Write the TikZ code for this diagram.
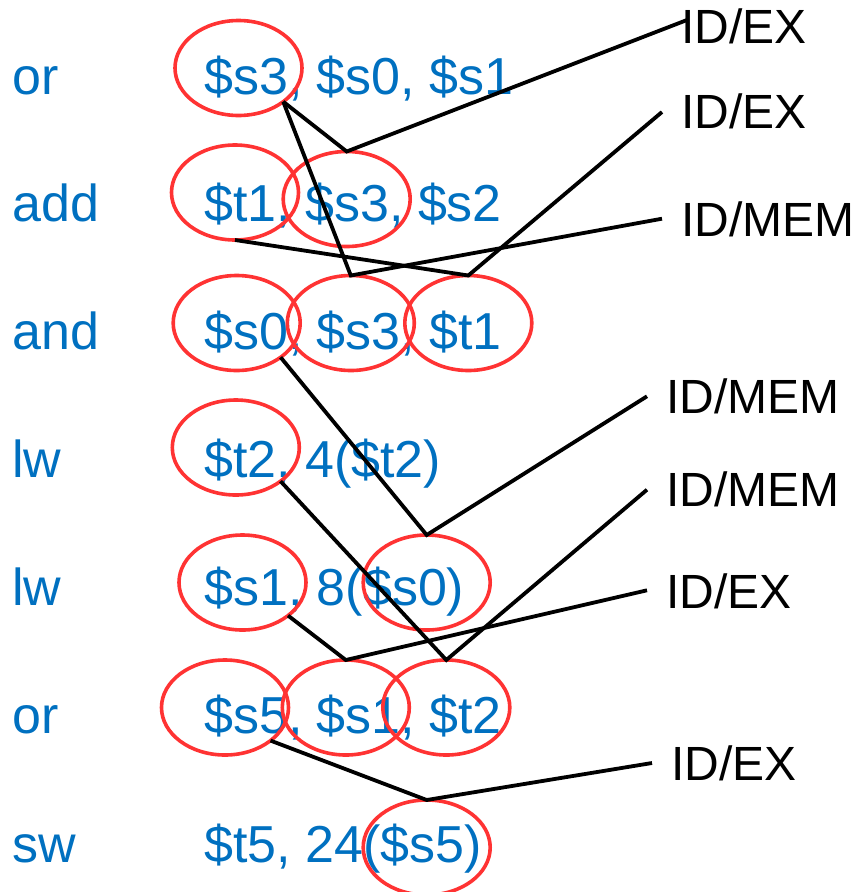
\documentclass[tikz,border=0pt]{standalone}
\usepackage{fontspec}
\setmainfont{Liberation Sans}
\usetikzlibrary{shapes.geometric}
\definecolor{opblue}{HTML}{0070C0}
\definecolor{ringred}{HTML}{FF3333}
\begin{document}
\begin{tikzpicture}[x=1pt,y=-1pt,
  instr/.style={anchor=base west, inner sep=0, text=opblue, font=\fontsize{52}{60}\selectfont},
  stage/.style={anchor=base west, inner sep=0, font=\fontsize{48}{56}\selectfont},
  ring/.style={draw=ringred, line width=3.6pt, ellipse, inner sep=0, outer sep=0,
               minimum width=127pt, minimum height=95pt},
  dep/.style={draw=black, line width=3.8pt, line join=miter, miter limit=3}]
\useasboundingbox (0,0) rectangle (857,892);

% mnemonics
\node[instr] (m1) at (12,94)  {or};
\node[instr] (m2) at (12,221) {add};
\node[instr] (m3) at (12,349) {and};
\node[instr] (m4) at (12,477) {lw};
\node[instr] (m5) at (12,605) {lw};
\node[instr] (m6) at (12,733) {or};
\node[instr] (m7) at (12,862) {sw};

% operands
\node[instr] (o1) at (204,94)  {\$s3, \$s0, \$s1};
\node[instr] (o2) at (204,221) {\$t1, \$s3, \$s2};
\node[instr] (o3) at (204,349) {\$s0, \$s3, \$t1};
\node[instr] (o4) at (204,477) {\$t2, 4(\$t2)};
\node[instr] (o5) at (204,605) {\$s1, 8(\$s0)};
\node[instr] (o6) at (204,733) {\$s5, \$s1, \$t2};
\node[instr] (o7) at (204,862) {\$t5, 24(\$s5)};

% stage labels
\node[stage] (L1) at (681,43)  {ID/EX};
\node[stage] (L2) at (681,128) {ID/EX};
\node[stage] (L3) at (681,236.7) {ID/MEM};
\node[stage] (L4) at (666,413.3) {ID/MEM};
\node[stage] (L5) at (666,506.7) {ID/MEM};
\node[stage] (L6) at (666,608.3) {ID/EX};
\node[stage] (L7) at (671,780) {ID/EX};

% rings
\node[ring] (E1)  at (238.5,68) {};
\node[ring] (E2a) at (235,192.5) {};
\node[ring] (E2b) at (346.7,199) {};
\node[ring] (E3a) at (236.7,323) {};
\node[ring] (E3b) at (350.8,323) {};
\node[ring] (E3c) at (468.3,323) {};
\node[ring] (E4)  at (235.8,447.5) {};
\node[ring] (E5a) at (242.5,582.5) {};
\node[ring] (E5b) at (426.7,582.5) {};
\node[ring] (E6a) at (225,707.5) {};
\node[ring] (E6b) at (345.8,707.5) {};
\node[ring] (E6c) at (446.3,707.5) {};
\node[ring] (E7)  at (426.7,847.5) {};

% dependency connectors
\draw[dep] (E1.-37) -- (E2b.north) -- ([shift={(6pt,23pt)}]L1.base west);
\draw[dep] (E1.-37) -- (E3b.north) -- ([shift={(-19pt,18pt)}]L3.base west);
\draw[dep] (E2a.south) -- (E3c.north) -- ([shift={(-19pt,16pt)}]L2.base west);
\draw[dep] (E3a.-38) -- (E5b.north) -- ([shift={(-19pt,17pt)}]L4.base west);
\draw[dep] (E4.-37) -- (E6c.north) -- ([shift={(-19pt,17pt)}]L5.base west);
\draw[dep] (E5a.-36) -- (E6b.north) -- ([shift={(-19pt,18pt)}]L6.base west);
\draw[dep] (E6a.-36) -- (E7.north) -- ([shift={(-19pt,17pt)}]L7.base west);
\end{tikzpicture}
\end{document}
